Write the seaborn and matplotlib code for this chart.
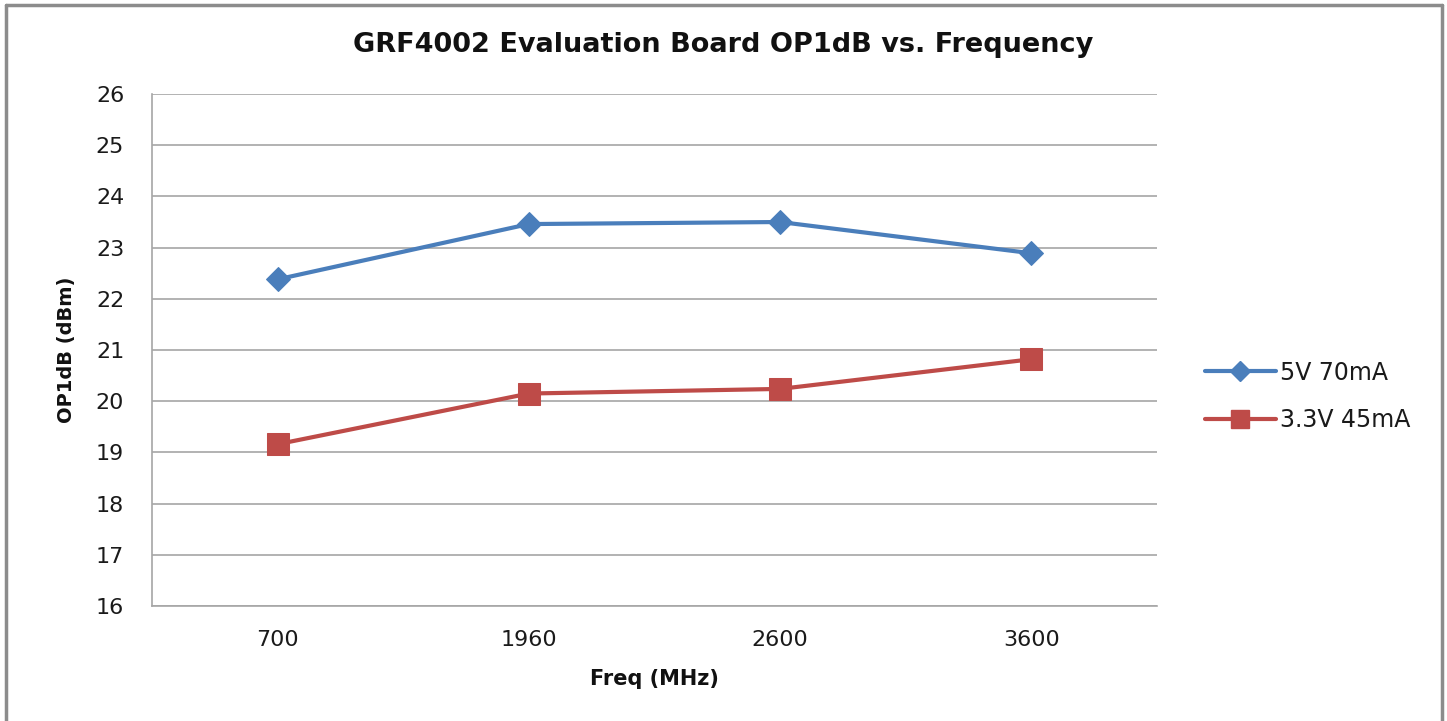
import pandas as pd
import matplotlib.pyplot as plt
import seaborn as sns
from matplotlib.lines import Line2D

# Data
freqs = ['700', '1960', '2600', '3600']
op1db_5v = [22.38, 23.46, 23.50, 22.89]
op1db_33v = [19.16, 20.15, 20.24, 20.82]
series_names = ['5V 70mA', '3.3V 45mA']
y_ticks = [16, 17, 18, 19, 20, 21, 22, 23, 24, 25, 26]

df = pd.DataFrame({
    'Freq': freqs * 2,
    'OP1dB': op1db_5v + op1db_33v,
    'Series': [series_names[0]] * 4 + [series_names[1]] * 4,
})

sns.set_style('white')
plt.rcParams['font.family'] = ['DejaVu Sans']
plt.rcParams['text.color'] = '#111111'

colors = {'5V 70mA': '#4A7EBB', '3.3V 45mA': '#BE4B48'}
markers = {'5V 70mA': 'D', '3.3V 45mA': 's'}
msizes = {'5V 70mA': 12.5, '3.3V 45mA': 16}

fig = plt.figure(figsize=(14.47, 7.21), dpi=100)
ax = fig.add_axes([0.105, 0.1595, 0.6946, 0.7101])

for name in series_names:
    sub = df[df['Series'] == name]
    sns.lineplot(data=sub, x='Freq', y='OP1dB', ax=ax, sort=False,
                 color=colors[name], linewidth=3, marker=markers[name],
                 markersize=msizes[name], markeredgecolor=colors[name],
                 legend=False)

ax.set_xlim(-0.5, len(freqs) - 0.5)
ax.set_ylim(16, 26)
ax.set_yticks(y_ticks)
ax.yaxis.grid(True, color='#A6A6A6', linewidth=1.2)
ax.set_axisbelow(True)
for s in ['top', 'right']:
    ax.spines[s].set_visible(False)
for s in ['left', 'bottom']:
    ax.spines[s].set_color('#A6A6A6')
    ax.spines[s].set_linewidth(1.2)
ax.tick_params(axis='y', length=7, width=1.2, color='#A6A6A6', labelsize=16, pad=13)
ax.tick_params(axis='x', length=0, labelsize=16, pad=17)
for lab in ax.get_xticklabels() + ax.get_yticklabels():
    lab.set_color('#1a1a1a')

ax.set_xlabel('Freq (MHz)', fontsize=15, fontweight='bold', labelpad=14, color='#111111')
ax.set_ylabel('OP1dB (dBm)', fontsize=14, fontweight='bold', labelpad=14, color='#111111')
fig.text(0.5, 0.937, 'GRF4002 Evaluation Board OP1dB vs. Frequency',
         ha='center', va='center', fontsize=19.5, fontweight='bold', color='#111111')

handles = [Line2D([0], [0], color=colors[n], linewidth=3, marker=markers[n],
                  markersize=msizes[n] * 0.85, markeredgecolor=colors[n])
           for n in series_names]
fig.legend(handles, series_names, loc='center left',
           bbox_to_anchor=(0.818, 0.45), frameon=False, fontsize=17,
           handlelength=3.0, handletextpad=0.2, labelspacing=1.0,
           labelcolor='#1a1a1a')

# outer chart frame (bottom edge runs off the image)
for xs, ys in [([0.004, 0.004], [0.0, 0.993]),
               ([0.004, 0.9965], [0.993, 0.993]),
               ([0.9965, 0.9965], [0.0, 0.993])]:
    fig.add_artist(Line2D(xs, ys, transform=fig.transFigure,
                          color='#8C8C8C', linewidth=2.5))

fig.savefig('out.png', dpi=100)
